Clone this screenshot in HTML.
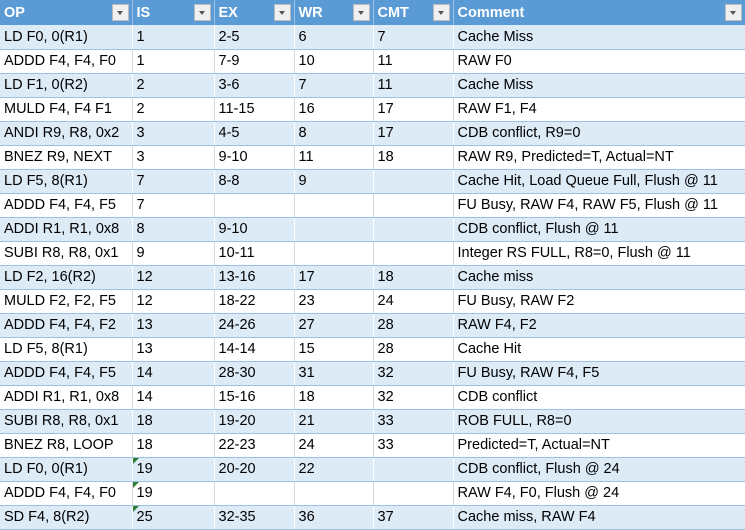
<!DOCTYPE html>
<html><head><meta charset="utf-8"><style>
body{margin:0;width:745px;height:528px;overflow:hidden;background:#fff;font-family:"Liberation Sans",sans-serif;}
table{border-collapse:collapse;table-layout:fixed;width:745px;}
td,th{padding:0 0 0 4px;font-size:14.5px;white-space:nowrap;overflow:hidden;text-align:left;color:#000;position:relative;box-sizing:border-box;}
th{height:25px;background:#5B9BD5;color:#fff;font-weight:bold;border-right:1px solid #9BC2E6;}
tr.d{height:24px;}
td{border-bottom:1px solid #9BC2E6;border-right:1px solid #D0D7E0;}
tr.o td{background:#DDEBF7;border-right:1px solid #fff;}
.dd{position:absolute;right:3px;top:4px;width:17px;height:17px;background:#f0f0f0;border:1px solid #bbb;box-sizing:border-box;}
.dd:after{content:"";position:absolute;left:4px;top:6px;border-left:3.5px solid transparent;border-right:3.5px solid transparent;border-top:4px solid #555;}
.tri{position:absolute;left:0;top:0;width:0;height:0;border-top:6px solid #2E7D32;border-right:6px solid transparent;}
</style></head><body>
<table>
<colgroup><col style="width:132px"><col style="width:82px"><col style="width:80px"><col style="width:79px"><col style="width:80px"><col style="width:292px"></colgroup>
<tr>
<th>OP<span class="dd"></span></th>
<th>IS<span class="dd"></span></th>
<th>EX<span class="dd"></span></th>
<th>WR<span class="dd"></span></th>
<th>CMT<span class="dd"></span></th>
<th>Comment<span class="dd"></span></th>
</tr>
<tbody id="tb"></tbody>
</table>
<script>
const rows=[
["LD F0, 0(R1)","1","2-5","6","7","Cache Miss"],
["ADDD F4, F4, F0","1","7-9","10","11","RAW F0"],
["LD F1, 0(R2)","2","3-6","7","11","Cache Miss"],
["MULD F4, F4 F1","2","11-15","16","17","RAW F1, F4"],
["ANDI R9, R8, 0x2","3","4-5","8","17","CDB conflict, R9=0"],
["BNEZ R9, NEXT","3","9-10","11","18","RAW R9, Predicted=T, Actual=NT"],
["LD F5, 8(R1)","7","8-8","9","","Cache Hit, Load Queue Full, Flush @ 11"],
["ADDD F4, F4, F5","7","","","","FU Busy, RAW F4, RAW F5, Flush @ 11"],
["ADDI R1, R1, 0x8","8","9-10","","","CDB conflict, Flush @ 11"],
["SUBI R8, R8, 0x1","9","10-11","","","Integer RS FULL, R8=0, Flush @ 11"],
["LD F2, 16(R2)","12","13-16","17","18","Cache miss"],
["MULD F2, F2, F5","12","18-22","23","24","FU Busy, RAW F2"],
["ADDD F4, F4, F2","13","24-26","27","28","RAW F4, F2"],
["LD F5, 8(R1)","13","14-14","15","28","Cache Hit"],
["ADDD F4, F4, F5","14","28-30","31","32","FU Busy, RAW F4, F5"],
["ADDI R1, R1, 0x8","14","15-16","18","32","CDB conflict"],
["SUBI R8, R8, 0x1","18","19-20","21","33","ROB FULL, R8=0"],
["BNEZ R8, LOOP","18","22-23","24","33","Predicted=T, Actual=NT"],
["LD F0, 0(R1)","19","20-20","22","","CDB conflict, Flush @ 24"],
["ADDD F4, F4, F0","19","","","","RAW F4, F0, Flush @ 24"],
["SD F4, 8(R2)","25","32-35","36","37","Cache miss, RAW F4"]];
const cols=["op","is","ex","wr","cmt","comment"];
const tb=document.getElementById('tb');
rows.forEach((r,i)=>{
 const tr=document.createElement('tr');
 
 
 tr.className=(i%2==0)?'d o':'d';
 r.forEach((v,j)=>{
  const td=document.createElement('td');
  
  
  td.textContent=v;
  if(j==1&&i>=18){const t=document.createElement('span');t.className='tri';td.appendChild(t);}
  tr.appendChild(td);
 });
 tb.appendChild(tr);
});
</script>
</body></html>
